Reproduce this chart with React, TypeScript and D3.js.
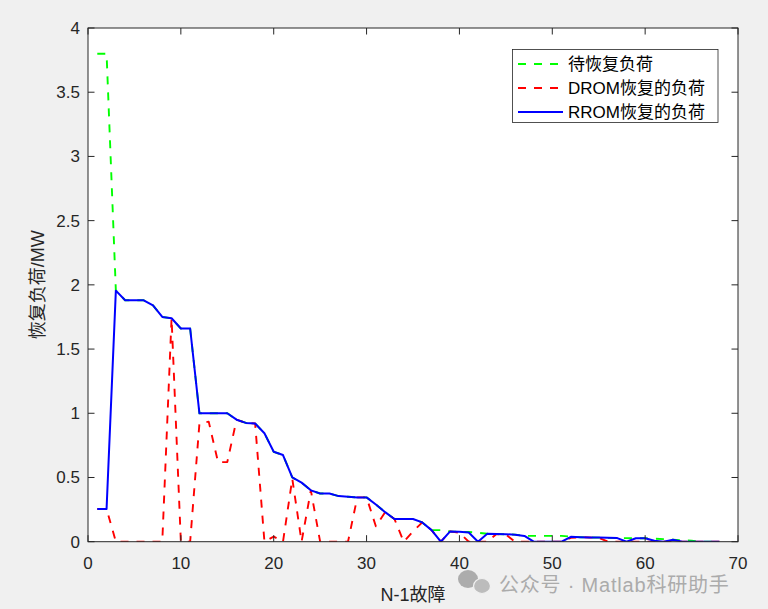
import React from 'react';
import * as d3 from 'd3';

const faults = [
  1, 2, 3, 4, 5, 6, 7, 8, 9, 10, 11, 12, 13, 14, 15, 16, 17, 18, 19, 20,
  21, 22, 23, 24, 25, 26, 27, 28, 29, 30, 31, 32, 33, 34, 35, 36, 37, 38, 39, 40,
  41, 42, 43, 44, 45, 46, 47, 48, 49, 50, 51, 52, 53, 54, 55, 56, 57, 58, 59, 60,
  61, 62, 63, 64, 65, 66, 67, 68,
];

const pendingLoad = [
  3.8, 3.8, 1.955, 1.88, 1.88, 1.88, 1.84, 1.75, 1.74, 1.66, 1.66, 1.0, 1.0, 1.0, 1.0, 0.95, 0.925, 0.92, 0.845, 0.7,
  0.675, 0.5, 0.46, 0.4, 0.375, 0.375, 0.355, 0.35, 0.345, 0.345, 0.29, 0.23, 0.177, 0.177, 0.177, 0.15, 0.09, 0.09, 0.08, 0.078,
  0.075, 0.07, 0.062, 0.06, 0.058, 0.055, 0.045, 0.045, 0.045, 0.045, 0.045, 0.04, 0.035, 0.033, 0.032, 0.03, 0.028, 0.028, 0.027, 0.027,
  0.023, 0.02, 0.015, 0.01, 0.008, 0, 0, 0,
];

const dromLoad = [
  0.255, 0.255, 0, 0, 0, 0, 0, 0, 1.74, 0, 0, 0.92, 0.935, 0.62, 0.62, 0.95, 0.925, 0.92, 0, 0.04,
  0, 0.49, 0, 0.4, 0, 0, 0, 0, 0.345, 0.345, 0.12, 0.23, 0.177, 0, 0.08, 0.15, 0.09, 0, 0.08, 0.07,
  0, 0, 0, 0.06, 0.055, 0, 0, 0, 0, 0, 0, 0.03, 0.035, 0.033, 0.03, 0, 0, 0, 0, 0,
  0, 0, 0, 0, 0, 0, 0, 0,
];

const rromLoad = [
  0.255, 0.255, 1.955, 1.88, 1.88, 1.88, 1.84, 1.75, 1.74, 1.66, 1.66, 1.0, 1.0, 1.0, 1.0, 0.95, 0.925, 0.92, 0.845, 0.7,
  0.675, 0.5, 0.46, 0.4, 0.375, 0.375, 0.355, 0.35, 0.345, 0.345, 0.29, 0.23, 0.177, 0.177, 0.177, 0.15, 0.09, 0, 0.08, 0.078,
  0.072, 0, 0.062, 0.06, 0.058, 0.055, 0.045, 0, 0, 0, 0, 0.038, 0.035, 0.033, 0.032, 0.03, 0.028, 0, 0.027, 0.027,
  0.008, 0, 0.015, 0, 0, 0, 0, 0,
];

const xTicks = [0, 10, 20, 30, 40, 50, 60, 70];
const yTicks = [0, 0.5, 1, 1.5, 2, 2.5, 3, 3.5, 4];

const seriesNames = ['待恢复负荷', 'DROM恢复的负荷', 'RROM恢复的负荷'];
const seriesColors = ['#00ff00', '#ff0000', '#0000ff'];
const xLabel = 'N-1故障';
const yLabel = '恢复负荷/MW';
const watermark = '公众号 · Matlab科研助手';

const W = 768;
const H = 609;
const L = 88;
const R = 738;
const T = 28;
const B = 541.7;

export default function App() {
  const x = d3.scaleLinear().domain([0, 70]).range([L, R]);
  const y = d3.scaleLinear().domain([0, 4]).range([B, T]);
  const mk = (vals: number[]) =>
    d3
      .line<number>()
      .x((_, i) => x(faults[i]))
      .y((d) => y(d))(vals) || '';

  const series = [
    { vals: pendingLoad, dash: '8,8', w: 1.9 },
    { vals: dromLoad, dash: '8,8', w: 1.9 },
    { vals: rromLoad, dash: undefined, w: 2 },
  ];
  const axisColor = '#262626';
  const font = '"Liberation Sans", Arial, "Noto Sans CJK SC", sans-serif';
  const tickLen = 6.5;

  return (
    <svg width={W} height={H} style={{ position: 'absolute', left: 0, top: 0, display: 'block' }}>
      <rect x={0} y={0} width={W} height={H} fill="#f0f0f0" />
      <defs>
        <clipPath id="plotClip">
          <rect x={L} y={T - 2} width={R - L} height={B - T + 2} />
        </clipPath>
      </defs>
      <rect x={L} y={T} width={R - L} height={B - T} fill="#ffffff" />

      <g clipPath="url(#plotClip)">
        {series.map((s, i) => (
          <path
            key={i}
            d={mk(s.vals)}
            fill="none"
            stroke={seriesColors[i]}
            strokeWidth={s.w}
            strokeDasharray={s.dash}
            strokeLinejoin="round"
          />
        ))}
      </g>

      {/* axes box */}
      <rect x={L} y={T} width={R - L} height={B - T} fill="none" stroke={axisColor} strokeWidth={1} />

      {/* x ticks */}
      {xTicks.map((t) => (
        <g key={'x' + t}>
          <line x1={x(t)} x2={x(t)} y1={B} y2={B - tickLen} stroke={axisColor} strokeWidth={1} />
          <line x1={x(t)} x2={x(t)} y1={T} y2={T + tickLen} stroke={axisColor} strokeWidth={1} />
          <text
            x={x(t)}
            y={B + 27}
            textAnchor="middle"
            fontFamily={font}
            fontSize={17}
            fill={axisColor}
          >
            {t}
          </text>
        </g>
      ))}

      {/* y ticks */}
      {yTicks.map((t) => (
        <g key={'y' + t}>
          <line x1={L} x2={L + tickLen} y1={y(t)} y2={y(t)} stroke={axisColor} strokeWidth={1} />
          <line x1={R} x2={R - tickLen} y1={y(t)} y2={y(t)} stroke={axisColor} strokeWidth={1} />
          <text
            x={L - 8}
            y={y(t) + 6}
            textAnchor="end"
            fontFamily={font}
            fontSize={17}
            fill={axisColor}
          >
            {t}
          </text>
        </g>
      ))}

      {/* axis labels */}
      <text x={413} y={601} textAnchor="middle" fontFamily={font} fontSize={18} fill={axisColor}>
        {xLabel}
      </text>
      <text
        transform={`translate(44, ${(T + B) / 2}) rotate(-90)`}
        textAnchor="middle"
        fontFamily={font}
        fontSize={18}
        fill={axisColor}
      >
        {yLabel}
      </text>

      {/* legend */}
      <g>
        <rect x={512.5} y={49.5} width={205.5} height={73} fill="#ffffff" stroke={axisColor} strokeWidth={0.8} />
        {seriesNames.map((name, i) => {
          const cy = 64 + i * 24;
          return (
            <g key={name}>
              <line
                x1={518}
                x2={563}
                y1={cy}
                y2={cy}
                stroke={seriesColors[i]}
                strokeWidth={i === 2 ? 2 : 1.9}
                strokeDasharray={i === 2 ? undefined : '8,8'}
              />
              <text x={568} y={cy + 6} fontFamily={font} fontSize={17} fill="#000000">
                {name}
              </text>
            </g>
          );
        })}
      </g>

      {/* watermark */}
      <g opacity={0.8}>
        <ellipse cx={468} cy={579} rx={10} ry={9} fill="#9c9c9c" />
        <ellipse cx={482} cy={586} rx={8.5} ry={7.5} fill="#b0b0b0" stroke="#f0f0f0" strokeWidth={1.2} />
        <text x={499} y={592} fontFamily={font} fontSize={20} fill="#9a9a9a" letterSpacing={0.8}>
          {watermark}
        </text>
      </g>
    </svg>
  );
}
